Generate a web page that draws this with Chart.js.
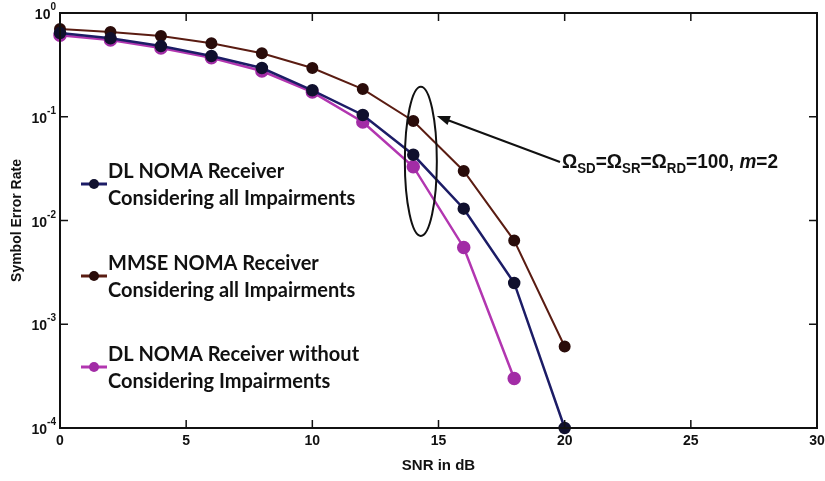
<!DOCTYPE html>
<html>
<head>
<meta charset="utf-8">
<script src="https://cdn.jsdelivr.net/npm/chart.js@4.4.1/dist/chart.umd.min.js"></script>
<style>
  html, body { margin: 0; padding: 0; background: #fff; }
  #wrap { width: 825px; height: 481px; position: relative; }
</style>
</head>
<body>
<div id="wrap"><canvas id="serChart" width="825" height="481"></canvas></div>
<script>
// SNR points (dB)
const snr = [0, 2, 4, 6, 8, 10, 12, 14, 16, 18, 20];

// symbol error rate
const serDL      = [0.64, 0.57, 0.48, 0.385, 0.295, 0.18, 0.104, 0.043, 0.013, 0.0025, 0.0001];
const serMMSE    = [0.70, 0.655, 0.60, 0.51, 0.41, 0.295, 0.185, 0.091, 0.030, 0.0064, 0.00061];
const serDLIdeal = [0.61, 0.55, 0.46, 0.37, 0.276, 0.173, 0.089, 0.033, 0.0055, 0.0003];

const xTicks = [0, 5, 10, 15, 20, 25, 30];
const yTicks = [1, 0.1, 0.01, 0.001, 0.0001];
const yExps = ['0', '-1', '-2', '-3', '-4'];

const legendLabels = [
  ['DL NOMA Receiver', 'Considering all Impairments'],
  ['MMSE NOMA Receiver', 'Considering all Impairments'],
  ['DL NOMA Receiver without', 'Considering Impairments']
];

function pts(ys) {
  return ys.map((y, i) => ({ x: snr[i], y: y }));
}

// frame, inward ticks, tick labels, titles, legend and the ellipse note
const decorPlugin = {
  id: 'decor',
  afterDraw(chart) {
    const ctx = chart.ctx;
    const a = chart.chartArea;
    const xs = chart.scales.x, ys = chart.scales.y;
    ctx.save();

    // box
    ctx.strokeStyle = '#111';
    ctx.lineWidth = 2;
    ctx.strokeRect(a.left, a.top, a.right - a.left, a.bottom - a.top);

    // ticks inward
    ctx.lineWidth = 1.5;
    ctx.beginPath();
    xTicks.forEach(v => {
      const px = xs.getPixelForValue(v);
      ctx.moveTo(px, a.bottom); ctx.lineTo(px, a.bottom - 8);
      ctx.moveTo(px, a.top); ctx.lineTo(px, a.top + 8);
    });
    yTicks.forEach(v => {
      const py = ys.getPixelForValue(v);
      ctx.moveTo(a.left, py); ctx.lineTo(a.left + 8, py);
      ctx.moveTo(a.right, py); ctx.lineTo(a.right - 8, py);
    });
    ctx.stroke();

    // x tick labels
    ctx.fillStyle = '#111';
    ctx.font = 'bold 14px "Liberation Sans", Arial, sans-serif';
    ctx.textAlign = 'center';
    ctx.textBaseline = 'top';
    xTicks.forEach(v => {
      ctx.fillText(String(v), xs.getPixelForValue(v), a.bottom + 6);
    });

    // y tick labels 10^n
    yTicks.forEach((v, i) => {
      const py = ys.getPixelForValue(v);
      ctx.font = 'bold 10px "Liberation Sans", Arial, sans-serif';
      const ew = ctx.measureText(yExps[i]).width;
      ctx.textAlign = 'left';
      ctx.textBaseline = 'alphabetic';
      ctx.fillText(yExps[i], a.left - 4 - ew, py - 3);
      ctx.font = 'bold 14px "Liberation Sans", Arial, sans-serif';
      ctx.textAlign = 'right';
      ctx.fillText('10', a.left - 4 - ew, py + 6);
    });

    // axis titles
    ctx.font = 'bold 15px "Liberation Sans", Arial, sans-serif';
    ctx.textAlign = 'center';
    ctx.textBaseline = 'middle';
    ctx.fillText('SNR in dB', (a.left + a.right) / 2, 466);
    ctx.font = 'bold 14px "Liberation Sans", Arial, sans-serif';
    ctx.save();
    ctx.translate(17, (a.top + a.bottom) / 2);
    ctx.rotate(-Math.PI / 2);
    ctx.fillText('Symbol Error Rate', 0, 0);
    ctx.restore();

    // legend
    const ds = chart.data.datasets;
    const rows = [184, 276, 367];
    rows.forEach((ry, i) => {
      ctx.strokeStyle = ds[i].borderColor;
      ctx.lineWidth = 3;
      ctx.beginPath();
      ctx.moveTo(81, ry); ctx.lineTo(107, ry);
      ctx.stroke();
      ctx.fillStyle = ds[i].pointBackgroundColor;
      ctx.beginPath();
      ctx.arc(94, ry, 5, 0, Math.PI * 2);
      ctx.fill();
      ctx.fillStyle = '#111';
      ctx.font = 'bold 20px Lato, "Open Sans", sans-serif';
      ctx.textAlign = 'left';
      ctx.textBaseline = 'middle';
      ctx.fillText(legendLabels[i][0], 108, ry - 12);
      ctx.fillText(legendLabels[i][1], 108, ry + 15);
    });

    // ellipse around the 14 dB points
    const ex = xs.getPixelForValue(14.3);
    const eTop = ys.getPixelForValue(0.195);
    const eBot = ys.getPixelForValue(0.0071);
    ctx.strokeStyle = '#111';
    ctx.lineWidth = 2;
    ctx.beginPath();
    ctx.ellipse(ex, (eTop + eBot) / 2, 16, (eBot - eTop) / 2, 0, 0, Math.PI * 2);
    ctx.stroke();

    // arrow
    const x0 = 560, y0 = 162, x1 = ex + 16, y1 = 116;
    ctx.beginPath();
    ctx.moveTo(x0, y0); ctx.lineTo(x1 + 8, y1 + 3);
    ctx.stroke();
    const ang = Math.atan2(y1 - y0, x1 - x0);
    ctx.fillStyle = '#111';
    ctx.beginPath();
    ctx.moveTo(x1, y1);
    ctx.lineTo(x1 - 14 * Math.cos(ang - 0.35), y1 - 14 * Math.sin(ang - 0.35));
    ctx.lineTo(x1 - 14 * Math.cos(ang + 0.35), y1 - 14 * Math.sin(ang + 0.35));
    ctx.closePath();
    ctx.fill();

    // annotation text with subscripts (slightly condensed like the original)
    const by = 168;
    const parts = [
      ['Ω', 'n'], ['SD', 's'], ['=Ω', 'n'], ['SR', 's'], ['=Ω', 'n'], ['RD', 's'],
      ['=100, ', 'n'], ['m', 'i'], ['=2', 'n']
    ];
    ctx.save();
    ctx.translate(562, 0);
    ctx.scale(0.95, 1);
    let tx = 0;
    ctx.textAlign = 'left';
    ctx.textBaseline = 'alphabetic';
    parts.forEach(p => {
      if (p[1] === 's') {
        ctx.font = 'bold 14px "Liberation Sans", Arial, sans-serif';
        ctx.fillText(p[0], tx, by + 5);
      } else if (p[1] === 'i') {
        ctx.font = 'italic bold 20px "Liberation Sans", Arial, sans-serif';
        ctx.fillText(p[0], tx, by);
      } else {
        ctx.font = 'bold 20px "Liberation Sans", Arial, sans-serif';
        ctx.fillText(p[0], tx, by);
      }
      tx += ctx.measureText(p[0]).width;
    });
    ctx.restore();

    ctx.restore();
  }
};

const chart = new Chart(document.getElementById('serChart').getContext('2d'), {
  type: 'line',
  data: {
    datasets: [
      {
        label: 'DL NOMA Receiver Considering all Impairments',
        data: pts(serDL),
        borderColor: '#1c1c66',
        pointBackgroundColor: '#10102e',
        pointBorderColor: '#10102e',
        borderWidth: 2.5,
        pointRadius: 5
      },
      {
        label: 'MMSE NOMA Receiver Considering all Impairments',
        data: pts(serMMSE),
        borderColor: '#5a1c12',
        pointBackgroundColor: '#2a0c0a',
        pointBorderColor: '#2a0c0a',
        borderWidth: 2,
        pointRadius: 5
      },
      {
        label: 'DL NOMA Receiver without Considering Impairments',
        data: pts(serDLIdeal),
        borderColor: '#b236b0',
        pointBackgroundColor: '#a22ca6',
        pointBorderColor: '#a22ca6',
        borderWidth: 2.5,
        pointRadius: 5.5
      }
    ]
  },
  options: {
    responsive: false,
    animation: false,
    clip: false,
    layout: { padding: { left: 60, right: 6, top: 13, bottom: 53 } },
    plugins: {
      legend: { display: false },
      tooltip: { enabled: false }
    },
    scales: {
      x: { type: 'linear', min: 0, max: 30, display: false },
      y: { type: 'logarithmic', min: 0.0001, max: 1, display: false }
    }
  },
  plugins: [decorPlugin]
});
</script>
</body>
</html>
